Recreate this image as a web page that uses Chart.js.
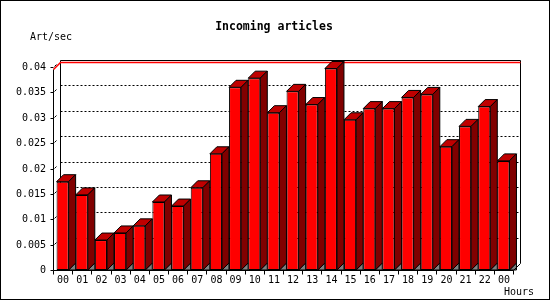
<!DOCTYPE html>
<html>
<head>
<meta charset="utf-8">
<script src="https://cdn.jsdelivr.net/npm/chart.js@4/dist/chart.umd.min.js"></script>
<style>
  html, body { margin: 0; padding: 0; background: #fff; }
  canvas { display: block; }
</style>
</head>
<body>
<canvas id="chart" width="550" height="300"></canvas>
<script>
// data
const hourLabels = ['00', '01', '02', '03', '04', '05', '06', '07', '08', '09', '10', '11',
                    '12', '13', '14', '15', '16', '17', '18', '19', '20', '21', '22', '00'];
const artPerSec = [0.0174, 0.0148, 0.0059, 0.0073, 0.0087, 0.0134, 0.0126, 0.0162,
                   0.0229, 0.0360, 0.0378, 0.0310, 0.0352, 0.0326, 0.0397, 0.0296,
                   0.0318, 0.0318, 0.0340, 0.0346, 0.0243, 0.0283, 0.0322, 0.0215];
const yTicks = [0, 0.005, 0.01, 0.015, 0.02, 0.025, 0.03, 0.035, 0.04];
const yTickLabels = ['0', '0.005', '0.01', '0.015', '0.02', '0.025', '0.03', '0.035', '0.04'];
const chartTitle = 'Incoming articles';
const yUnit = 'Art/sec';
const xUnit = 'Hours';

const DEPTH = 7; // 3d offset of the back wall, px
const MONO = '"DejaVu Sans Mono", monospace';

function poly(ctx, pts, fill) {
    ctx.beginPath();
    ctx.moveTo(pts[0][0], pts[0][1]);
    for (let i = 1; i < pts.length; i++) ctx.lineTo(pts[i][0], pts[i][1]);
    ctx.closePath();
    ctx.fillStyle = fill;
    ctx.fill();
    ctx.stroke();
}

function line(ctx, x1, y1, x2, y2) {
    ctx.beginPath();
    ctx.moveTo(x1, y1);
    ctx.lineTo(x2, y2);
    ctx.stroke();
}

const frame3d = {
    id: 'frame3d',
    beforeDraw(chart) {
        const ctx = chart.ctx;
        const { left, right, top, bottom } = chart.chartArea;
        const yScale = chart.scales.y;
        ctx.save();
        ctx.fillStyle = '#fff';
        ctx.fillRect(0, 0, chart.width, chart.height);
        ctx.strokeStyle = '#000';
        ctx.lineWidth = 1;
        ctx.strokeRect(0.5, 0.5, chart.width - 1, chart.height - 1);

        // texts
        ctx.fillStyle = '#000';
        ctx.textBaseline = 'middle';
        ctx.font = 'bold 11.5px ' + MONO;
        ctx.textAlign = 'center';
        ctx.fillText(chartTitle, 274, 27);
        ctx.font = '10px ' + MONO;
        ctx.textAlign = 'left';
        ctx.fillText(yUnit, 30, 37);
        ctx.fillText(xUnit, 504, 292);

        // back wall with dotted grid
        const bl = Math.round(left) + DEPTH + 0.5;
        const br = Math.round(right) + DEPTH + 0.5;
        const bt = Math.round(top) - DEPTH + 0.5;
        const bb = Math.round(bottom) - DEPTH + 0.5;
        ctx.setLineDash([2, 2]);
        yTicks.forEach(v => {
            if (v === 0 || v === yScale.max) return;
            const py = Math.round(yScale.getPixelForValue(v)) - DEPTH + 0.5;
            line(ctx, bl, py, br, py);
        });
        ctx.setLineDash([]);
        line(ctx, bl, bt, br, bt);
        line(ctx, bl, bt, bl, bb);
        line(ctx, br, bt, br, bb);

        // max line
        const ym = Math.round(yScale.getPixelForValue(Math.max(...artPerSec))) + 0.5;
        ctx.strokeStyle = '#ff0000';
        ctx.lineWidth = 1.5;
        ctx.beginPath();
        ctx.moveTo(Math.round(left) + 0.5, ym);
        ctx.lineTo(bl, ym - DEPTH);
        ctx.lineTo(br, ym - DEPTH);
        ctx.stroke();
        ctx.restore();
    },
    beforeDatasetsDraw(chart) {
        // side, top and floor faces of each bar
        const ctx = chart.ctx;
        ctx.save();
        ctx.strokeStyle = '#000';
        ctx.lineWidth = 1;
        chart.getDatasetMeta(0).data.forEach(bar => {
            const { x, y, base, width } = bar.getProps(['x', 'y', 'base', 'width'], true);
            const x1 = x - width / 2, x2 = x + width / 2;
            poly(ctx, [[x2, base], [x2 + DEPTH, base - DEPTH], [x2 + DEPTH, base]], '#808080');
            poly(ctx, [[x1, y], [x1 + DEPTH, y - DEPTH], [x2 + DEPTH, y - DEPTH], [x2, y]], '#c00000');
            poly(ctx, [[x2, y], [x2 + DEPTH, y - DEPTH], [x2 + DEPTH, base - DEPTH], [x2, base]], '#800000');
        });
        ctx.restore();
    },
    afterDatasetsDraw(chart) {
        // front axes, ticks and labels
        const ctx = chart.ctx;
        const { left, right, top, bottom } = chart.chartArea;
        const xScale = chart.scales.x, yScale = chart.scales.y;
        const l = Math.round(left) + 0.5, r = Math.round(right) + 0.5, b = Math.round(bottom) + 0.5;
        const ym = Math.round(yScale.getPixelForValue(Math.max(...artPerSec))) + 0.5;
        ctx.save();
        ctx.strokeStyle = '#000';
        ctx.lineWidth = 1;
        line(ctx, l, ym, l, b);
        line(ctx, l, b, r, b);
        line(ctx, r, b, r + DEPTH, b - DEPTH);

        ctx.fillStyle = '#000';
        ctx.font = '10px ' + MONO;
        ctx.textBaseline = 'middle';
        ctx.textAlign = 'right';
        yTicks.forEach((v, i) => {
            const py = Math.round(yScale.getPixelForValue(v)) + 0.5;
            line(ctx, l - 3, py, l, py);
            if (i > 0) line(ctx, l + 1, py - 1, l + 3, py - 3);
            ctx.fillText(yTickLabels[i], 46, py);
        });

        const step = xScale.width / hourLabels.length;
        for (let i = 0; i <= hourLabels.length; i++) {
            const px = Math.round(left + i * step) + 0.5;
            line(ctx, px, b, px, b + 4);
        }
        ctx.textAlign = 'center';
        hourLabels.forEach((lab, i) => {
            ctx.fillText(lab, xScale.getPixelForValue(i) + 0.5, 280);
        });
        ctx.restore();
    }
};

new Chart(document.getElementById('chart'), {
    type: 'bar',
    data: {
        labels: hourLabels,
        datasets: [{
            data: artPerSec,
            backgroundColor: '#ff0000',
            borderColor: '#000',
            borderWidth: 1,
            borderSkipped: false,
            barPercentage: 0.63,
            categoryPercentage: 1
        }]
    },
    options: {
        responsive: false,
        animation: false,
        devicePixelRatio: 1,
        layout: { padding: { left: 53, right: 37, top: 67, bottom: 30 } },
        scales: {
            x: { display: false },
            y: { display: false, min: 0, max: 0.04 }
        },
        plugins: {
            legend: { display: false },
            tooltip: { enabled: false }
        }
    },
    plugins: [frame3d]
});
</script>
</body>
</html>
